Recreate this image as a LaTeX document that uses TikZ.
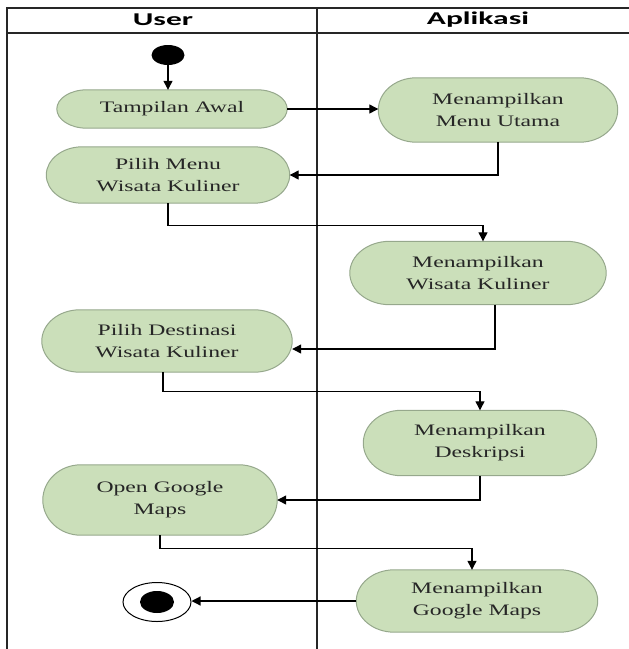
\documentclass[tikz,border=0pt]{standalone}
\usepackage{fontspec}
\setmainfont{Liberation Serif}[FakeStretch=1.48]
\newfontfamily\headfont{Carlito}[FakeStretch=1.75]
\usetikzlibrary{arrows.meta,positioning,shapes.geometric,backgrounds,calc}
\definecolor{actfill}{RGB}{203,223,186}
\definecolor{actline}{RGB}{150,168,140}
\tikzset{
  act/.style={inner sep=0pt, align=center, text=black!85,
    font=\fontsize{16}{22}\selectfont},
  pill/.style={draw=actline, fill=actfill, line width=1pt},
  flow/.style={line width=1.2pt, -{Triangle[length=9pt,width=9pt]}},
  lane/.style={line width=1.8pt, draw=black!85},
  head/.style={font=\headfont\bfseries\fontsize{18}{20}\selectfont}
}
\begin{document}
\begin{tikzpicture}[x=1pt,y=-1pt]
\useasboundingbox (0,0) rectangle (629,649);
% swimlanes
\draw[lane] (7,649) -- (7,8) -- (629,8);
\draw[lane] (7,33) -- (629,33);
\draw[lane] (317,8) -- (317,649);
\node[head] (user) at (163,20) {User};
\node[head] (app) at (478,20) {Aplikasi};
% start and end
\node[ellipse, fill, inner sep=0pt, minimum width=33, minimum height=20] (start) at (168,55) {};
\node[ellipse, draw, line width=1pt, inner sep=0pt, minimum width=68, minimum height=39] (end) at (157,602) {};
\node[ellipse, fill, inner sep=0pt, minimum width=34, minimum height=22] (endin) at (end) {};
% activities
\node[act, minimum width=230, minimum height=38] (awal) at (172,109) {Tampilan Awal};
\node[act, minimum width=239, minimum height=64] (menu) at (498,110) {Menampilkan\\Menu Utama};
\node[act, minimum width=243, minimum height=56] (pilihmenu) at (168,175) {Pilih Menu\\Wisata Kuliner};
\node[act, minimum width=256, minimum height=63] (wisata) at (478,273) {Menampilkan\\Wisata Kuliner};
\node[act, minimum width=250, minimum height=62] (destinasi) at (167,341) {Pilih Destinasi\\Wisata Kuliner};
\node[act, minimum width=233, minimum height=65] (deskripsi) at (480,443) {Menampilkan\\Deskripsi};
\node[act, minimum width=234, minimum height=70] (open) at (160,500) {Open Google\\Maps};
\node[act, minimum width=241, minimum height=62] (gmaps) at (477,601) {Menampilkan\\Google Maps};
% pill outlines behind the texts
\begin{scope}[on background layer]
\foreach \a/\r in {awal/30,menu/38,pilihmenu/36,wisata/40,destinasi/38,deskripsi/38,open/38,gmaps/38}
\draw[pill] let \p1=(\a.north west), \p2=(\a.south east), \n1={(\y1-\y2)/2} in
  (\x1+\r pt,\y1) -- (\x2-\r pt,\y1)
  arc[start angle=90, end angle=-90, x radius=\r pt, y radius=\n1]
  -- (\x1+\r pt,\y2)
  arc[start angle=270, end angle=90, x radius=\r pt, y radius=\n1] -- cycle;
\end{scope}
% flows
\draw[flow] (start.south) -- (start.south |- awal.north);
\draw[flow] (awal.east) -- (awal.east -| menu.west);
\draw[flow] (menu.south) |- (pilihmenu.east);
\draw[flow] (pilihmenu.south) -- ++(0,22) -| ([xshift=5pt]wisata.north);
\draw[flow] ([xshift=17pt]wisata.south) |- ([yshift=-8pt]destinasi.east);
\draw[flow] ([xshift=-4pt]destinasi.south) -- ++(0,19) -| (deskripsi.north);
\draw[flow] (deskripsi.south) |- (open.east);
\draw[flow] (open.south) -- ++(0,13) -| ([xshift=-5pt]gmaps.north);
\draw[flow] (gmaps.west) -- (gmaps.west -| end.east);
\end{tikzpicture}
\end{document}
